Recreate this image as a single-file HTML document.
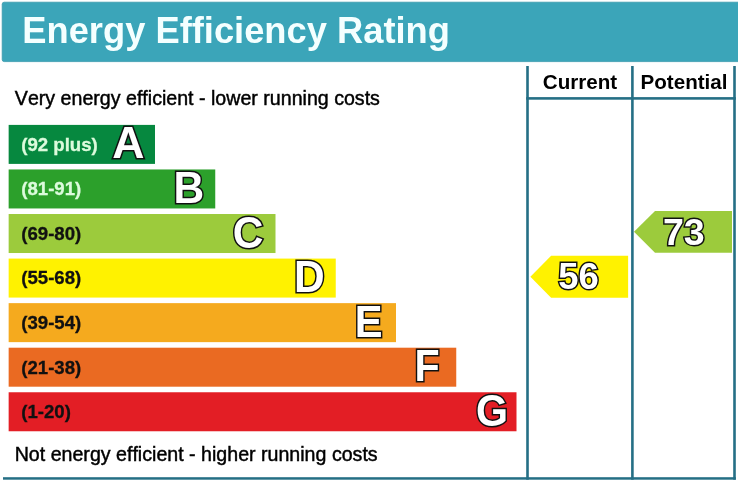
<!DOCTYPE html>
<html>
<head>
<meta charset="utf-8">
<title>Energy Efficiency Rating</title>
<style>
html,body{margin:0;padding:0;background:#fff;}
body{width:738px;height:483px;overflow:hidden;}
svg{display:block;}
text{font-family:"Liberation Sans",Arial,sans-serif;}
.hd{font-weight:bold;font-size:36.3px;fill:#f4ffff;}
.cap{font-size:19.63px;fill:#000;stroke:#000;stroke-width:0.45px;font-kerning:none;}
.col{font-weight:bold;font-size:20.6px;fill:#000;}
.rng{font-weight:bold;font-size:18.6px;}
.ltr{font-weight:bold;fill:#fff;stroke:#111;stroke-width:3.0px;paint-order:stroke fill;stroke-linejoin:miter;stroke-miterlimit:2.5;}
.num{font-weight:bold;font-size:36.5px;fill:#fff;stroke:#111;stroke-width:2.9px;paint-order:stroke fill;stroke-linejoin:miter;stroke-miterlimit:2.5;}
</style>
</head>
<body>
<svg width="738" height="483" viewBox="0 0 738 483">
  <rect x="0" y="0" width="738" height="483" fill="#ffffff"/>
  <!-- header -->
  <rect x="2.2" y="2.2" width="740" height="59.4" rx="2" ry="2" fill="#3ba5b9" stroke="#3799ac" stroke-width="0.8"/>
  <text class="hd" x="22.3" y="43.4">Energy Efficiency Rating</text>

  <!-- grid lines -->
  <g fill="#256f85">
    <rect x="526.2" y="66" width="2.6" height="413.7"/>
    <rect x="631.1" y="66" width="2.6" height="413.7"/>
    <rect x="733.2" y="66" width="2.6" height="413.7"/>
    <rect x="526.2" y="97.1" width="209.6" height="2.6"/>
    <rect x="3" y="477.2" width="732.8" height="2.5"/>
  </g>
  <text class="col" x="580" y="88.9" text-anchor="middle">Current</text>
  <text class="col" x="684" y="88.9" text-anchor="middle">Potential</text>

  <text class="cap" x="14.8" y="105.3">Very energy efficient - lower running costs</text>
  <text class="cap" x="14.7" y="461.4">Not energy efficient - higher running costs</text>

  <!-- bars -->
  <rect x="8.65" y="124.90" width="146.35" height="39.00" fill="#06883f"/>
  <rect x="8.65" y="169.46" width="206.60" height="39.00" fill="#2ca02b"/>
  <rect x="8.65" y="214.02" width="266.85" height="39.00" fill="#9ccb3c"/>
  <rect x="8.65" y="258.58" width="327.10" height="39.00" fill="#fff200"/>
  <rect x="8.65" y="303.14" width="387.35" height="39.00" fill="#f5aa1e"/>
  <rect x="8.65" y="347.70" width="447.60" height="39.00" fill="#ea6a22"/>
  <rect x="8.65" y="392.26" width="507.85" height="39.00" fill="#e31e25"/>
  <text class="rng" x="21.30" y="150.70" fill="#dcfbdc" stroke="#dcfbdc" stroke-width="0.3">(92 plus)</text>
  <text class="rng" x="21.30" y="195.26" fill="#dcfbdc" stroke="#dcfbdc" stroke-width="0.3">(81-91)</text>
  <text class="rng" x="21.30" y="239.82" fill="#111" stroke="#111" stroke-width="0.3">(69-80)</text>
  <text class="rng" x="21.30" y="284.38" fill="#111" stroke="#111" stroke-width="0.3">(55-68)</text>
  <text class="rng" x="21.30" y="328.94" fill="#111" stroke="#111" stroke-width="0.3">(39-54)</text>
  <text class="rng" x="21.30" y="373.50" fill="#111" stroke="#111" stroke-width="0.3">(21-38)</text>
  <text class="rng" x="21.30" y="418.06" fill="#111" stroke="#111" stroke-width="0.3">(1-20)</text>
  <text class="ltr" font-size="42.50" transform="translate(112.20,158.45) scale(1.050,1.035)">A</text>
  <text class="ltr" font-size="42.50" transform="translate(173.60,203.00) scale(1.000,1.035)">B</text>
  <text class="ltr" font-size="42.50" transform="translate(232.85,247.55) scale(1.000,1.035)">C</text>
  <text class="ltr" font-size="42.50" transform="translate(294.10,292.15) scale(1.000,1.035)">D</text>
  <text class="ltr" font-size="42.50" transform="translate(354.70,336.70) scale(0.980,1.035)">E</text>
  <text class="ltr" font-size="42.50" transform="translate(414.45,381.30) scale(0.970,1.035)">F</text>
  <text class="ltr" font-size="42.50" transform="translate(475.90,425.85) scale(0.970,1.035)">G</text>

  <!-- arrows -->
  <polygon points="530.4,276.7 551.1,255.7 628.1,255.7 628.1,297.8 551.1,297.8" fill="#fff200"/>
  <text class="num" transform="translate(578.6,289.4) scale(1,1.005)" text-anchor="middle">56</text>
  <polygon points="634,231.8 655,211 732,211 732,252.8 655,252.8" fill="#9ccb3c"/>
  <text class="num" transform="translate(683.8,244.7) scale(1.03,1.035)" text-anchor="middle">73</text>
</svg>
</body>
</html>
